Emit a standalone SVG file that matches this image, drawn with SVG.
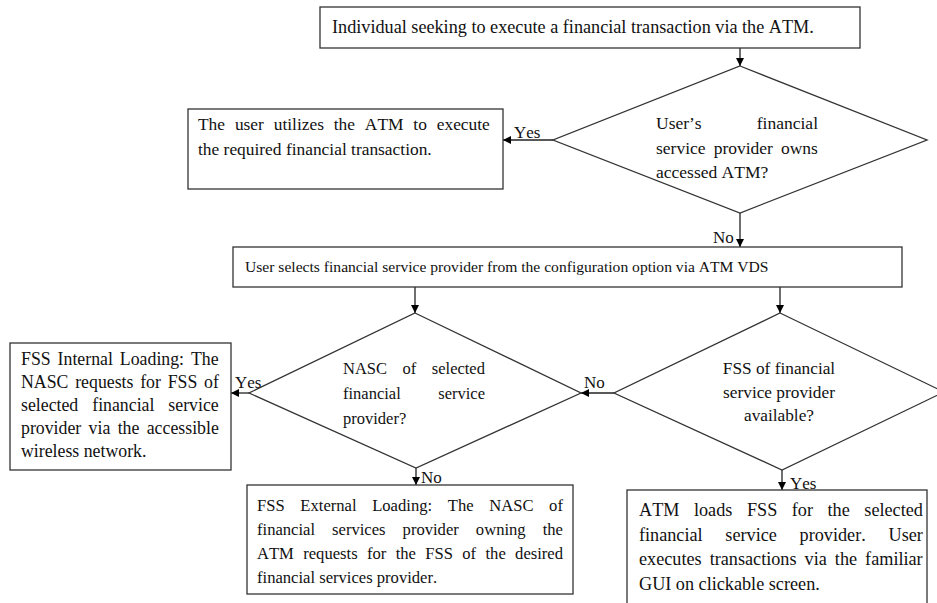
<svg xmlns="http://www.w3.org/2000/svg" width="937" height="603" viewBox="0 0 937 603">
<defs>
<marker id="ah" markerWidth="8" markerHeight="8" refX="8" refY="4" orient="auto" markerUnits="userSpaceOnUse">
<path d="M0,0 L8,4 L0,8 Z" fill="#000"/>
</marker>
<style>
.box{fill:#fff;stroke:#333;stroke-width:1.3}
.dia{fill:#fff;stroke:#333;stroke-width:1.3}
.t{font-family:"Liberation Serif","Times New Roman",serif;font-size:16px;fill:#111;font-kerning:none}
.lb{font-size:17px}
.c{stroke:#222;stroke-width:1.3;fill:none;marker-end:url(#ah)}
</style>
</defs>
<rect width="937" height="603" fill="#fff"/>
<g id="connectors">
<line class="c" x1="740" y1="48" x2="740" y2="66"/>
<line class="c" x1="553" y1="140" x2="503" y2="140"/>
<line class="c" x1="740" y1="213" x2="740" y2="247"/>
<line class="c" x1="415" y1="287" x2="415" y2="313"/>
<line class="c" x1="780" y1="287" x2="780" y2="313"/>
<line class="c" x1="249" y1="393" x2="231" y2="393"/>
<line class="c" x1="614" y1="393" x2="581" y2="393"/>
<line class="c" x1="416" y1="468" x2="416" y2="485"/>
<line class="c" x1="782" y1="470" x2="782" y2="490"/>
<text class="t lb" x="514" y="138">Yes</text>
<text class="t lb" x="713" y="243">No</text>
<text class="t lb" x="235" y="388">Yes</text>
<text class="t lb" x="584" y="388">No</text>
<text class="t lb" x="421" y="483">No</text>
<text class="t lb" x="790" y="489">Yes</text>
</g>
<g id="n_start">
<rect class="box" x="320" y="7" width="540" height="41"/>
<text class="t" x="332" y="33" style="font-size:18.2px">Individual seeking to execute a financial transaction via the ATM.</text>
</g>
<g id="d_owns">
<polygon class="dia" points="740,66 927,140 740,213 553,140"/>
<text class="t" x="656" y="129" style="font-size:17.5px">User’s</text>
<text class="t" x="818" y="129" text-anchor="end" style="font-size:17.5px">financial</text>
<text class="t" x="656" y="154" word-spacing="3.7" style="font-size:17.5px">service provider owns</text>
<text class="t" x="656" y="178" style="font-size:17.5px">accessed ATM?</text>
</g>
<g id="n_use">
<rect class="box" x="188" y="109" width="315" height="80"/>
<text class="t" x="198" y="130" word-spacing="5.5" style="font-size:17.4px">The user utilizes the ATM to execute</text>
<text class="t" x="198" y="155" style="font-size:17.4px">the required financial transaction.</text>
</g>
<g id="n_select">
<rect class="box" x="233" y="247" width="669" height="40"/>
<text class="t" x="245" y="272" style="font-size:15.6px">User selects financial service provider from the configuration option via ATM VDS</text>
</g>
<g id="d_nasc">
<polygon class="dia" points="415,313 581,393 416,468 249,393"/>
<text class="t" x="343" y="374" word-spacing="11.4" style="font-size:16.5px">NASC of selected</text>
<text class="t" x="343" y="399" style="font-size:16.5px">financial</text>
<text class="t" x="485" y="399" text-anchor="end" style="font-size:16.5px">service</text>
<text class="t" x="343" y="424" style="font-size:16.5px">provider?</text>
</g>
<g id="d_fss">
<polygon class="dia" points="780,313 944,392 782,470 614,393"/>
<text class="t" x="779" y="374" text-anchor="middle" style="font-size:17.3px">FSS of financial</text>
<text class="t" x="779" y="398" text-anchor="middle" style="font-size:17.3px">service provider</text>
<text class="t" x="779" y="421" text-anchor="middle" style="font-size:17.3px">available?</text>
</g>
<g id="n_internal">
<rect class="box" x="10" y="343" width="221" height="127"/>
<text class="t" x="21" y="365" word-spacing="2.5" style="font-size:17.8px">FSS Internal Loading: The</text>
<text class="t" x="21" y="388" word-spacing="2.3" style="font-size:17.8px">NASC requests for FSS of</text>
<text class="t" x="21" y="411" word-spacing="9.5" style="font-size:17.8px">selected financial service</text>
<text class="t" x="21" y="434" word-spacing="2.9" style="font-size:17.8px">provider via the accessible</text>
<text class="t" x="21" y="457" style="font-size:17.8px">wireless network.</text>
</g>
<g id="n_external">
<rect class="box" x="247" y="485" width="326" height="109"/>
<text class="t" x="257" y="511" word-spacing="11.5" style="font-size:16.6px">FSS External Loading: The NASC of</text>
<text class="t" x="257" y="535" word-spacing="12.9" style="font-size:16.6px">financial services provider owning the</text>
<text class="t" x="257" y="559" word-spacing="5.2" style="font-size:16.6px">ATM requests for the FSS of the desired</text>
<text class="t" x="257" y="583" style="font-size:16.6px">financial services provider.</text>
</g>
<g id="n_loads">
<rect class="box" x="627" y="490" width="300" height="125"/>
<text class="t" x="639" y="516" word-spacing="10.0" style="font-size:18.2px">ATM loads FSS for the selected</text>
<text class="t" x="639" y="541" word-spacing="18.2" style="font-size:18.2px">financial service provider. User</text>
<text class="t" x="639" y="565" word-spacing="3.5" style="font-size:18.2px">executes transactions via the familiar</text>
<text class="t" x="639" y="590" style="font-size:18.2px">GUI on clickable screen.</text>
</g>
</svg>
